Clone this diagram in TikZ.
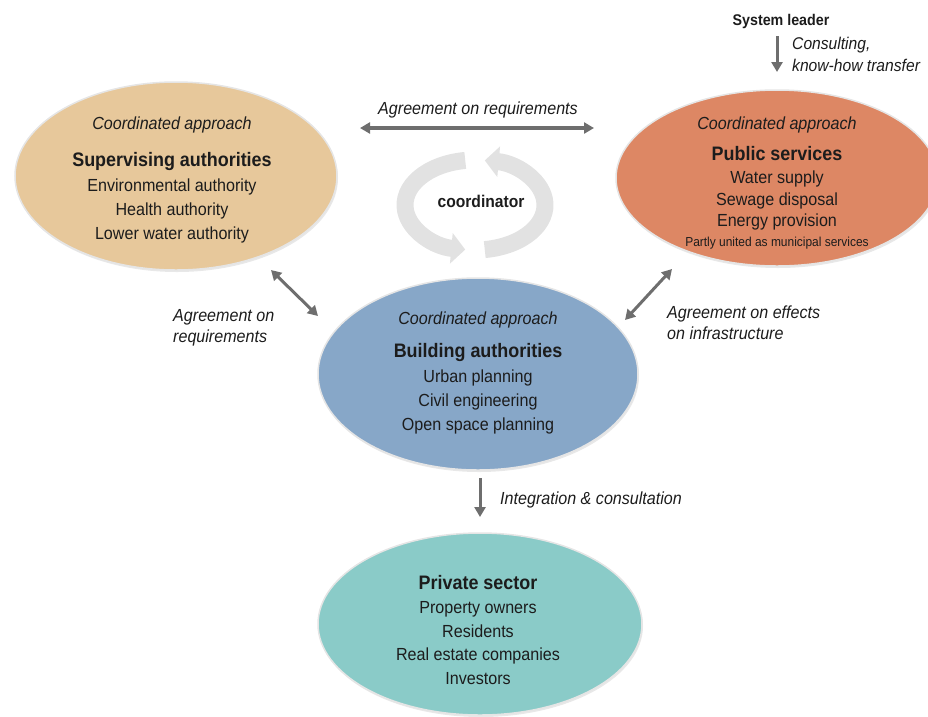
\documentclass[tikz,border=0pt]{standalone}
\usepackage{fontspec}
\setmainfont{Liberation Sans}[FakeStretch=0.92]
\usetikzlibrary{arrows.meta,shapes.geometric,shadows}
\definecolor{tanfill}{HTML}{E7C89B}
\definecolor{orafill}{HTML}{DD8764}
\definecolor{bluefill}{HTML}{87A7C8}
\definecolor{tealfill}{HTML}{8ACBC8}
\definecolor{txt}{HTML}{1C1C1C}
\definecolor{arr}{HTML}{6E6E6E}
\definecolor{ring}{HTML}{E2E2E2}
\begin{document}
\begin{tikzpicture}[x=1pt,y=-1pt,
  blob/.style={ellipse, draw=black!10, line width=1.5pt, inner sep=0pt,
    drop shadow={shadow xshift=1pt, shadow yshift=-2pt, opacity=0.18}},
  itl/.style={font=\fontsize{17.5}{20}\selectfont\itshape, text=txt, anchor=base, inner sep=0pt},
  hd/.style={font=\fontsize{19.5}{22}\selectfont\bfseries, text=txt, anchor=base, inner sep=0pt},
  rg/.style={font=\fontsize{17.5}{20}\selectfont, text=txt, anchor=base, inner sep=0pt},
  lbl/.style={font=\fontsize{17.5}{20}\selectfont\itshape, text=txt, anchor=base west, inner sep=0pt},
  conn/.style={draw=arr, line width=3pt, {Triangle[length=10pt,width=11pt]}-{Triangle[length=10pt,width=11pt]}},
  oneway/.style={draw=arr, line width=3pt, -{Triangle[length=10pt,width=11pt]}},
  ringarrow/.style={draw=ring, line width=17pt, -{Triangle[length=14pt,width=30pt]}}
]
\useasboundingbox (0,0) rectangle (928,716);

% ellipses
\node[blob, fill=tanfill, minimum width=322pt, minimum height=188pt] (sup) at (176,176) {};
\node[blob, fill=orafill, minimum width=322pt, minimum height=176pt] (pub) at (777,178) {};
\node[blob, fill=bluefill, minimum width=320pt, minimum height=192pt] (bld) at (478,374) {};
\node[blob, fill=tealfill, minimum width=324pt, minimum height=182pt] (prv) at (480,624) {};

% supervising authorities
\node[itl] (sup1) at (172,129) {Coordinated approach};
\node[hd]  (sup2) at (172,166) {Supervising authorities};
\node[rg]  (sup3) at (172,191) {Environmental authority};
\node[rg]  (sup4) at (172,215) {Health authority};
\node[rg]  (sup5) at (172,239) {Lower water authority};

% public services
\node[itl] (pub1) at (777,129) {Coordinated approach};
\node[hd]  (pub2) at (777,160) {Public services};
\node[rg]  (pub3) at (777,183) {Water supply};
\node[rg]  (pub4) at (777,205) {Sewage disposal};
\node[rg]  (pub5) at (777,226) {Energy provision};
\node[font=\fontsize{13}{15}\selectfont, text=txt, anchor=base, inner sep=0pt] (pub6) at (777,246) {Partly united as municipal services};

% building authorities
\node[itl] (bld1) at (478,324) {Coordinated approach};
\node[hd]  (bld2) at (478,357) {Building authorities};
\node[rg]  (bld3) at (478,382) {Urban planning};
\node[rg]  (bld4) at (478,406) {Civil engineering};
\node[rg]  (bld5) at (478,430) {Open space planning};

% private sector
\node[hd]  (prv1) at (478,589) {Private sector};
\node[rg]  (prv2) at (478,613) {Property owners};
\node[rg]  (prv3) at (478,637) {Residents};
\node[rg]  (prv4) at (478,660) {Real estate companies};
\node[rg]  (prv5) at (478,684) {Investors};

% system leader
\node[font=\fontsize{15.5}{18}\selectfont\bfseries, text=txt, anchor=base, inner sep=0pt] (sys) at (781,25) {System leader};
\coordinate (sysA) at (777,36);
\coordinate (sysB) at (777,72);
\draw[oneway] (sysA) -- (sysB);
\node[font=\fontsize{17}{19}\selectfont\itshape, text=txt, anchor=base west, inner sep=0pt] (cons1) at (792,49) {Consulting,};
\node[font=\fontsize{17}{19}\selectfont\itshape, text=txt, anchor=base west, inner sep=0pt] (cons2) at (792,71) {know-how transfer};

% top double arrow
\coordinate (topL) at (360,128);
\coordinate (topR) at (594,128);
\draw[conn, line width=3.5pt] (topL) -- (topR);
\node[itl] (topT) at (478,114) {Agreement on requirements};

% coordinator ring
\coordinate (rc) at (475,205);
\draw[ringarrow] (rc) ++(98:70pt and 45pt) arc[start angle=98, end angle=262, x radius=70pt, y radius=45pt];
\draw[ringarrow] (rc) ++(-82:70pt and 45pt) arc[start angle=-82, end angle=82, x radius=70pt, y radius=45pt];
\node[font=\fontsize{17}{20}\selectfont\bfseries, text=txt, inner sep=0pt] (coord) at (481,201) {coordinator};

% diagonal arrows
\coordinate (dlA) at (271,270);
\coordinate (dlB) at (318,316);
\draw[conn] (dlA) -- (dlB);
\node[lbl] (dlT1) at (173,321) {Agreement on};
\node[lbl] (dlT2) at (173,342) {requirements};

\coordinate (drA) at (672,269);
\coordinate (drB) at (625,320);
\draw[conn] (drA) -- (drB);
\node[lbl] (drT1) at (667,318) {Agreement on effects};
\node[lbl] (drT2) at (667,339) {on infrastructure};

% down arrow
\coordinate (dnA) at (480,478);
\coordinate (dnB) at (480,517);
\draw[oneway] (dnA) -- (dnB);
\node[lbl] (dnT) at (500,504) {Integration \& consultation};
\end{tikzpicture}
\end{document}
